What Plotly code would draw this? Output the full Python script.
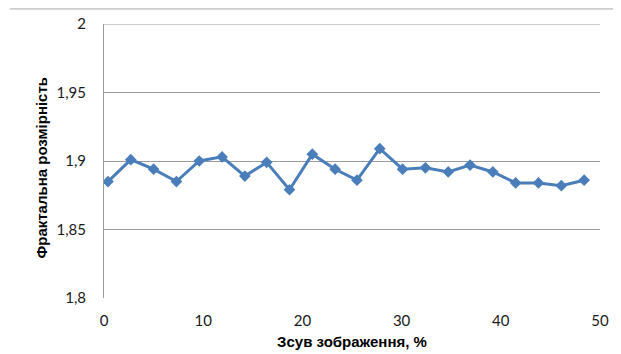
import plotly.graph_objects as go

shift_pct = [0.4, 2.7, 5.0, 7.3, 9.6, 11.9, 14.2, 16.4, 18.7, 21.0, 23.3, 25.5,
             27.8, 30.1, 32.4, 34.7, 36.9, 39.2, 41.5, 43.8, 46.1, 48.4]
fractal_dim = [1.885, 1.901, 1.894, 1.885, 1.900, 1.903, 1.889, 1.899, 1.879, 1.905, 1.894, 1.886,
               1.909, 1.894, 1.895, 1.892, 1.897, 1.892, 1.884, 1.884, 1.882, 1.886]

y_tickvals = [1.8, 1.85, 1.9, 1.95, 2.0]
y_ticktext = ["1,8", "1,85", "1,9", "1,95", "2"]
x_tickvals = [0, 10, 20, 30, 40, 50]
x_ticktext = ["0", "10", "20", "30", "40", "50"]
x_title = "Зсув зображення, %"
y_title = "Фрактальна розмірність"

fig = go.Figure()
fig.add_trace(go.Scatter(
    x=shift_pct, y=fractal_dim, mode="lines+markers",
    line=dict(color="#4A7EBB", width=3),
    marker=dict(symbol="diamond", size=9, color="#4A7EBB"),
    showlegend=False,
))

tick_font = dict(family="Lato, Open Sans, sans-serif", size=15, color="#1a1a1a")
title_font = dict(family="Liberation Sans, Arial, sans-serif", size=15, color="#000000")

# page body has an 8px offset, so margins are compensated
fig.update_layout(
    width=621, height=354,
    margin=dict(l=96, r=29, t=16, b=64, autoexpand=False),
    paper_bgcolor="white", plot_bgcolor="white",
    xaxis=dict(range=[0, 50], tickvals=x_tickvals, ticktext=x_ticktext,
               showgrid=False, zeroline=False, showline=False, automargin=False,
               ticks="", ticklabelstandoff=12, tickfont=tick_font,
               title=dict(text="<b>" + x_title + "</b>", font=title_font, standoff=8)),
    yaxis=dict(range=[1.8, 2.0], tickvals=y_tickvals, ticktext=y_ticktext,
               showgrid=True, gridcolor="#9a9a9a", gridwidth=1, automargin=False,
               zeroline=False, showline=True, linecolor="#9a9a9a", linewidth=1,
               ticks="", ticklabelstandoff=14, tickfont=tick_font),
)

fig.add_annotation(text="<b>" + y_title + "</b>", textangle=-90, font=title_font,
                   xref="paper", yref="paper", x=-0.125, y=0.476,
                   showarrow=False, xanchor="center", yanchor="middle")

# top grid line at the upper end of the range
fig.add_shape(type="line", xref="paper", yref="y",
              x0=0, x1=1, y0=y_tickvals[-1], y1=y_tickvals[-1],
              line=dict(color="#9a9a9a", width=1))

# outer chart frame line
fig.add_shape(type="line", xref="paper", yref="paper",
              x0=-0.19, x1=1.06, y0=1.055, y1=1.055,
              line=dict(color="#a8a8a8", width=1))

fig.write_html("out.html")
